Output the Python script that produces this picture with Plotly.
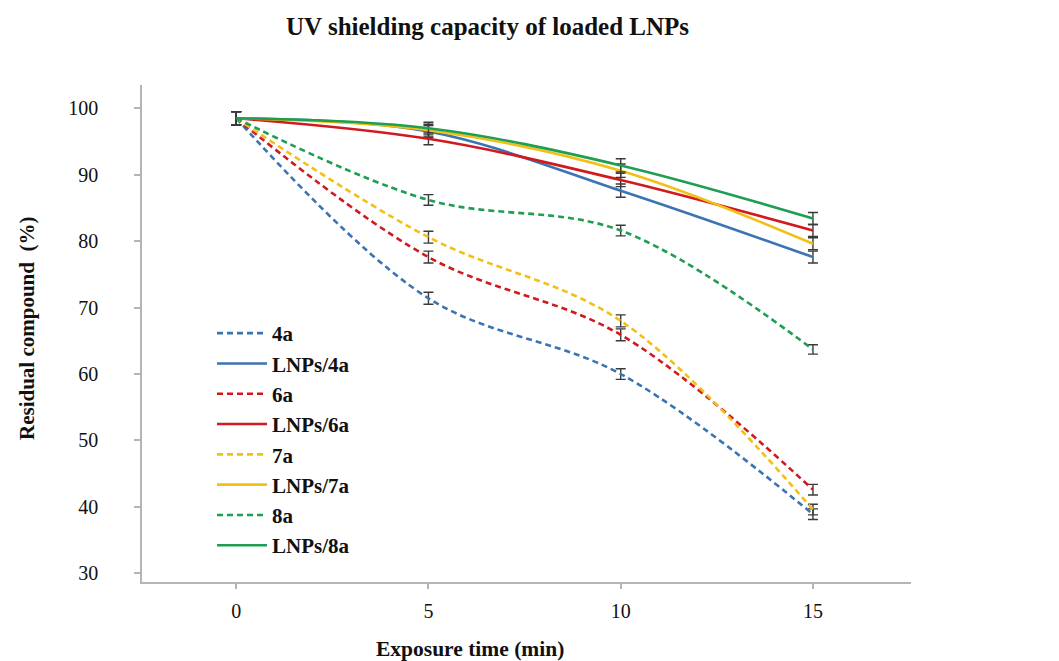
import plotly.graph_objects as go

x = [0, 5, 10, 15]
names = ["4a", "LNPs/4a", "6a", "LNPs/6a", "7a", "LNPs/7a", "8a", "LNPs/8a"]
v_4a = [98.5, 71.4, 60.0, 38.9]
v_lnp4a = [98.5, 96.5, 87.6, 77.6]
v_6a = [98.5, 77.6, 65.9, 42.6]
v_lnp6a = [98.5, 95.4, 89.2, 81.6]
v_7a = [98.5, 80.6, 68.0, 39.6]
v_lnp7a = [98.5, 96.7, 90.6, 79.6]
v_8a = [98.5, 86.2, 81.6, 63.7]
v_lnp8a = [98.5, 97.0, 91.4, 83.4]
err_4a = [1.0, 0.9, 0.8, 0.8]
err_lnp4a = [1.0, 0.9, 1.0, 0.9]
err_6a = [1.0, 0.9, 0.9, 0.8]
err_lnp6a = [1.0, 0.9, 1.0, 0.9]
err_7a = [1.0, 0.9, 0.9, 0.8]
err_lnp7a = [1.0, 0.9, 1.0, 0.9]
err_8a = [1.0, 0.8, 0.8, 0.7]
err_lnp8a = [1.0, 0.9, 1.0, 0.9]

values = [v_4a, v_lnp4a, v_6a, v_lnp6a, v_7a, v_lnp7a, v_8a, v_lnp8a]
errors = [err_4a, err_lnp4a, err_6a, err_lnp6a, err_7a, err_lnp7a, err_8a, err_lnp8a]
colors = ["#3b74b2", "#3b74b2", "#d01a1f", "#d01a1f", "#f2c014", "#f2c014", "#1f9e52", "#1f9e52"]
dashes = ["6px,4px", "solid", "6px,4px", "solid", "6px,4px", "solid", "6px,4px", "solid"]

serif = "Liberation Serif, Times New Roman, serif"

# the page body has an 8px margin; the figure is sized to fill the rest
OFF = 8
W, H = 1059 - OFF, 661 - OFF
L, R, T, B = 142 - OFF, 148, 85 - OFF, 79

fig = go.Figure()
for n, v, e, c, d in zip(names, values, errors, colors, dashes):
    fig.add_trace(go.Scatter(
        x=x, y=v, name=n, mode="lines", legendgroup=n,
        line=dict(color=c, width=2.6, dash=d, shape="spline", smoothing=1.0),
        error_y=dict(type="data", array=e, visible=True, color="#3a3a3a", thickness=1.4, width=5),
    ))

pw = W - L - R
ph = H - T - B

def px_to_paper(wx, wy):
    fx, fy = wx - OFF, wy - OFF
    return (fx - L) / pw, (H - B - fy) / ph

ann = []
for text, wx, wy, size, angle in [
    ("<b>UV shielding capacity of loaded LNPs</b>", 487, 27, 25, 0),
    ("<b>Exposure time (min)</b>", 470, 649, 21.5, 0),
    ("<b>Residual compound  (%)</b>", 27, 328, 21, -90),
]:
    ax, ay = px_to_paper(wx, wy)
    ann.append(dict(text=text, x=ax, y=ay, xref="paper", yref="paper", showarrow=False,
                    xanchor="center", yanchor="middle", textangle=angle,
                    font=dict(family=serif, size=size, color="#111111")))

lx, ly = px_to_paper(212, 313)

fig.update_layout(
    width=W, height=H,
    paper_bgcolor="white", plot_bgcolor="white",
    margin=dict(l=L, r=R, t=T, b=B, autoexpand=False),
    showlegend=True,
    legend=dict(
        x=lx, y=ly, xanchor="left", yanchor="top",
        font=dict(family=serif, size=21, color="#111111", weight="bold"),
        bgcolor="rgba(0,0,0,0)", tracegroupgap=0, traceorder="grouped",
        itemwidth=50,
    ),
    font=dict(family=serif, color="#111111"),
    annotations=ann,
)

fig.update_xaxes(
    range=[-2.45, 17.55], tickvals=x, ticktext=["0", "5", "10", "15"],
    showgrid=False, zeroline=False, showline=True, linecolor="#b5b5b5", linewidth=1.5,
    ticks="outside", ticklen=5, tickcolor="#b5b5b5", tickwidth=1.5,
    tickfont=dict(family=serif, size=20, color="#111111"), ticklabelstandoff=5,
)
fig.update_yaxes(
    range=[28.7, 103.5], tickvals=[30, 40, 50, 60, 70, 80, 90, 100],
    showgrid=False, zeroline=False, showline=True, linecolor="#b5b5b5", linewidth=1.5,
    ticks="outside", ticklen=6, tickcolor="#b5b5b5", tickwidth=1.5,
    tickfont=dict(family=serif, size=20, color="#111111"), ticklabelstandoff=32,
)

fig.write_html("out.html")
